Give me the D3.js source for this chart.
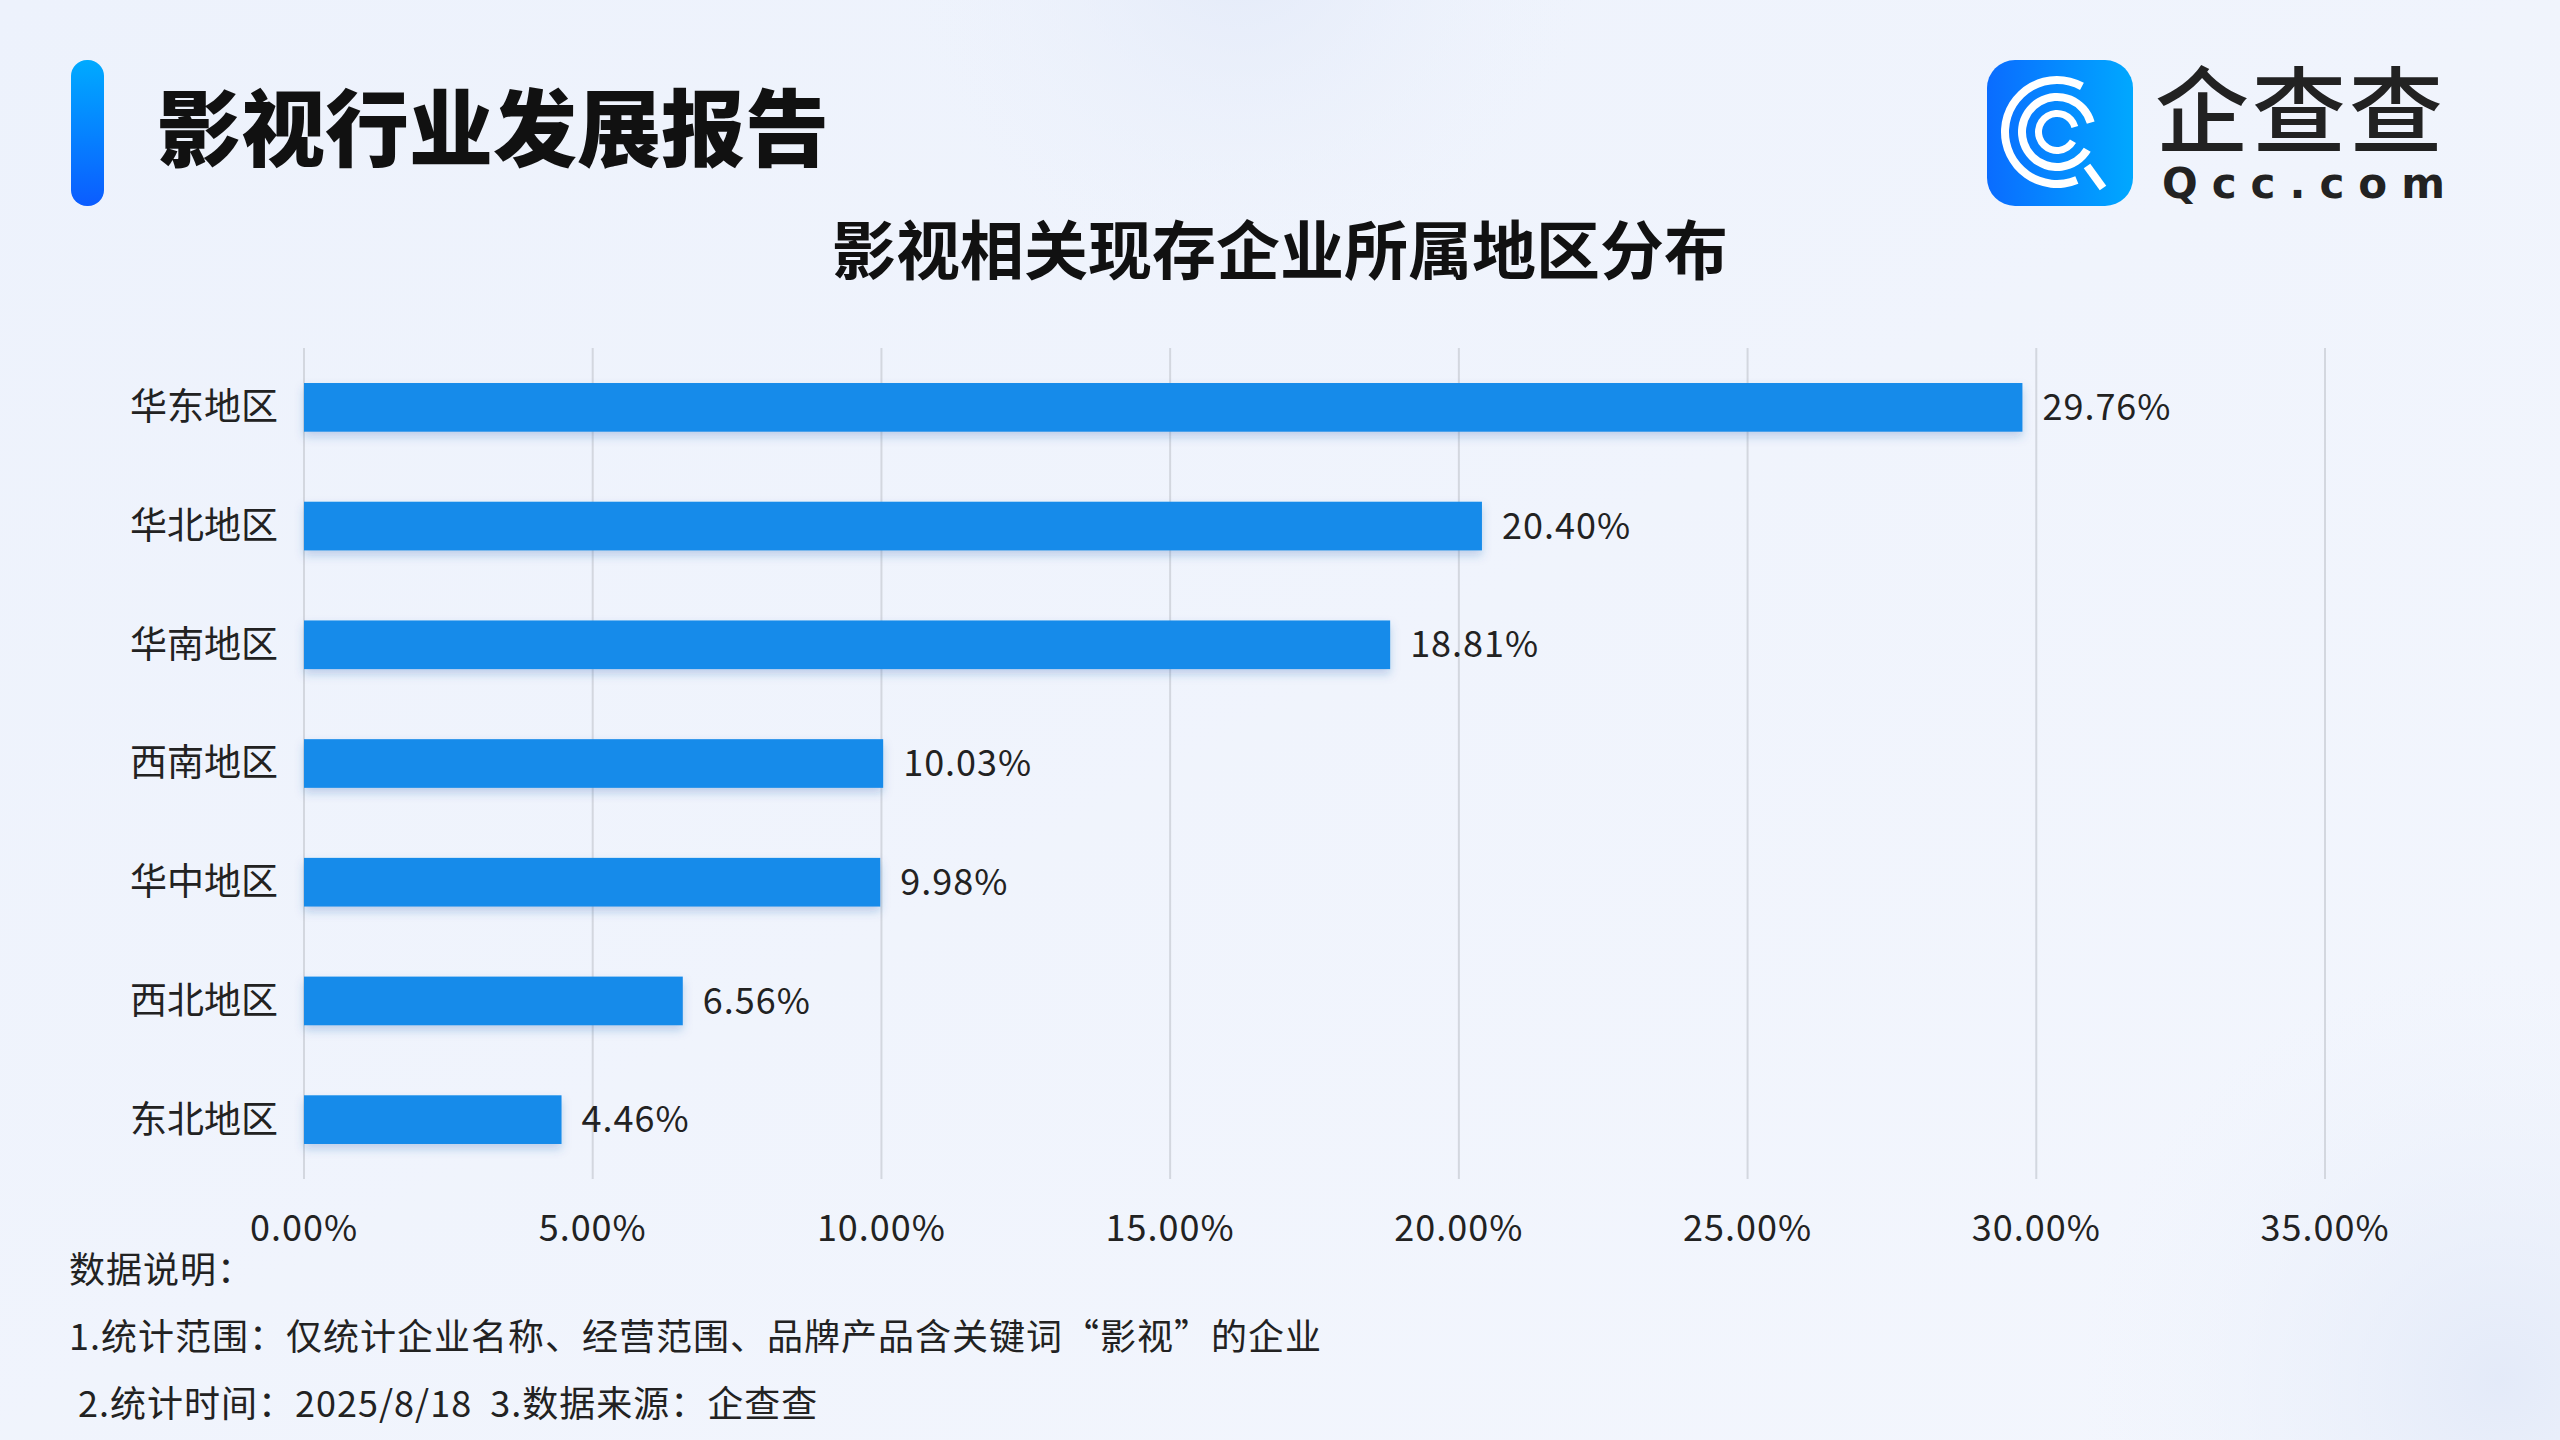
<!DOCTYPE html>
<html><head><meta charset="utf-8">
<script src="https://cdn.jsdelivr.net/npm/d3@7"></script>
<style>
  html, body { margin: 0; padding: 0; background: #eef3fc; }
  svg { display: block; font-family: "Noto Sans CJK SC", "Noto Sans", sans-serif; }
</style>
</head><body>
<svg id="chart" width="2560" height="1440"></svg>
<script>
// data
const regions = ["华东地区", "华北地区", "华南地区", "西南地区", "华中地区", "西北地区", "东北地区"];
const shares = [29.76, 20.40, 18.81, 10.03, 9.98, 6.56, 4.46];
const xTicks = [0, 5, 10, 15, 20, 25, 30, 35];
const notes = ["数据说明：", "1.统计范围：仅统计企业名称、经营范围、品牌产品含关键词“影视”的企业", " 2.统计时间：2025/8/18  3.数据来源：企查查"];

const W = 2560, H = 1440;
const svg = d3.select("#chart");
const defs = svg.append("defs");

// background
const bg = defs.append("linearGradient").attr("id", "bg").attr("x1", 0).attr("y1", 0).attr("x2", 1).attr("y2", 1);
bg.append("stop").attr("offset", 0).attr("stop-color", "#edf2fc");
bg.append("stop").attr("offset", 1).attr("stop-color", "#f3f6fd");
svg.append("rect").attr("width", W).attr("height", H).attr("fill", "url(#bg)");
const glow = defs.append("radialGradient").attr("id", "glow");
glow.append("stop").attr("offset", 0).attr("stop-color", "#e2e9f8").attr("stop-opacity", 0.9);
glow.append("stop").attr("offset", 1).attr("stop-color", "#eef3fc").attr("stop-opacity", 0);
svg.append("circle").attr("cx", 1240).attr("cy", -60).attr("r", 360).attr("fill", "url(#glow)");
svg.append("circle").attr("cx", 2500).attr("cy", 1380).attr("r", 420).attr("fill", "url(#glow)");

// header
const acc = defs.append("linearGradient").attr("id", "acc").attr("x1", 0).attr("y1", 0).attr("x2", 0).attr("y2", 1);
acc.append("stop").attr("offset", 0).attr("stop-color", "#00aaff");
acc.append("stop").attr("offset", 1).attr("stop-color", "#0b5cff");
svg.append("rect").attr("x", 71).attr("y", 60).attr("width", 33).attr("height", 146).attr("rx", 16).attr("fill", "url(#acc)");
svg.append("text").attr("x", 157).attr("y", 160).attr("font-size", 84).attr("font-weight", 900)
  .attr("fill", "#111").text("影视行业发展报告");

// logo
const lg = defs.append("linearGradient").attr("id", "logo").attr("x1", 0).attr("y1", 0).attr("x2", 1).attr("y2", 0);
lg.append("stop").attr("offset", 0).attr("stop-color", "#0a6cff");
lg.append("stop").attr("offset", 1).attr("stop-color", "#00a8ff");
const logo = svg.append("g").attr("transform", "translate(1987,60)");
logo.append("rect").attr("width", 146).attr("height", 146).attr("rx", 28).attr("fill", "url(#logo)");
const arc = d3.arc();
const rings = [[48, 56, 2.75, 2.25], [31, 39, 2.1, 0.8], [15, 22, 2.1, 0.8]];
rings.forEach(([ri, ro, a0, gap]) => {
  logo.append("path").attr("transform", "translate(70,72)")
    .attr("d", arc({ innerRadius: ri, outerRadius: ro, startAngle: a0, endAngle: a0 + 2 * Math.PI - gap }))
    .attr("fill", "#fff");
});
logo.append("line").attr("x1", 100).attr("y1", 106).attr("x2", 116).attr("y2", 128)
  .attr("stroke", "#fff").attr("stroke-width", 8);
svg.append("text").attr("x", 2155).attr("y", 146).attr("font-size", 94).attr("font-weight", 500)
  .attr("fill", "#222").attr("letter-spacing", 3).text("企查查");
svg.append("text").attr("x", 2162).attr("y", 198).attr("font-size", 42).attr("font-weight", 700)
  .attr("font-family", "DejaVu Sans, sans-serif")
  .attr("fill", "#222").attr("letter-spacing", 14).text("Qcc.com");

// chart title
svg.append("text").attr("x", 1280).attr("y", 274).attr("text-anchor", "middle")
  .attr("font-size", 64).attr("font-weight", 700).attr("fill", "#111").text("影视相关现存企业所属地区分布");

// plot
const x = d3.scaleLinear().domain([0, 35]).range([304, 2325]);
const y = d3.scaleBand().domain(regions).range([348, 1179]).paddingInner(0.59).paddingOuter(0.295);

svg.append("g").selectAll("line").data(xTicks).join("line")
  .attr("x1", d => x(d)).attr("x2", d => x(d)).attr("y1", 348).attr("y2", 1179)
  .attr("stroke", "#d3d7df").attr("stroke-width", 2);

const sh = defs.append("filter").attr("id", "sh").attr("x", -0.05).attr("y", -0.5).attr("width", 1.1).attr("height", 2);
sh.append("feDropShadow").attr("dx", 0).attr("dy", 5).attr("stdDeviation", 5)
  .attr("flood-color", "#1a5fb0").attr("flood-opacity", 0.25);

svg.append("g").selectAll("rect").data(shares).join("rect")
  .attr("x", x(0)).attr("y", (d, i) => y(regions[i]))
  .attr("width", d => x(d) - x(0)).attr("height", y.bandwidth())
  .attr("fill", "#168bea").attr("filter", "url(#sh)");

svg.append("g").selectAll("text").data(shares).join("text")
  .attr("x", d => x(d) + 20).attr("y", (d, i) => y(regions[i]) + y.bandwidth() / 2)
  .attr("dy", "0.35em").attr("font-size", 36).attr("letter-spacing", 1).attr("fill", "#222")
  .text(d => d.toFixed(2) + "%");

svg.append("g").selectAll("text").data(regions).join("text")
  .attr("x", 278).attr("y", d => y(d) + y.bandwidth() / 2)
  .attr("dy", "0.35em").attr("text-anchor", "end").attr("font-size", 37).attr("fill", "#222")
  .text(d => d);

svg.append("g").selectAll("text").data(xTicks).join("text")
  .attr("x", d => x(d)).attr("y", 1228).attr("dy", "0.35em").attr("text-anchor", "middle")
  .attr("font-size", 36).attr("letter-spacing", 1).attr("fill", "#222").text(d => d.toFixed(2) + "%");

// notes
svg.append("g").selectAll("text").data(notes).join("text")
  .attr("x", 69).attr("y", (d, i) => 1270 + i * 67).attr("dy", "0.35em")
  .attr("font-size", 36).attr("letter-spacing", 1).attr("fill", "#222").style("white-space", "pre")
  .text(d => d);
</script>
</body></html>
